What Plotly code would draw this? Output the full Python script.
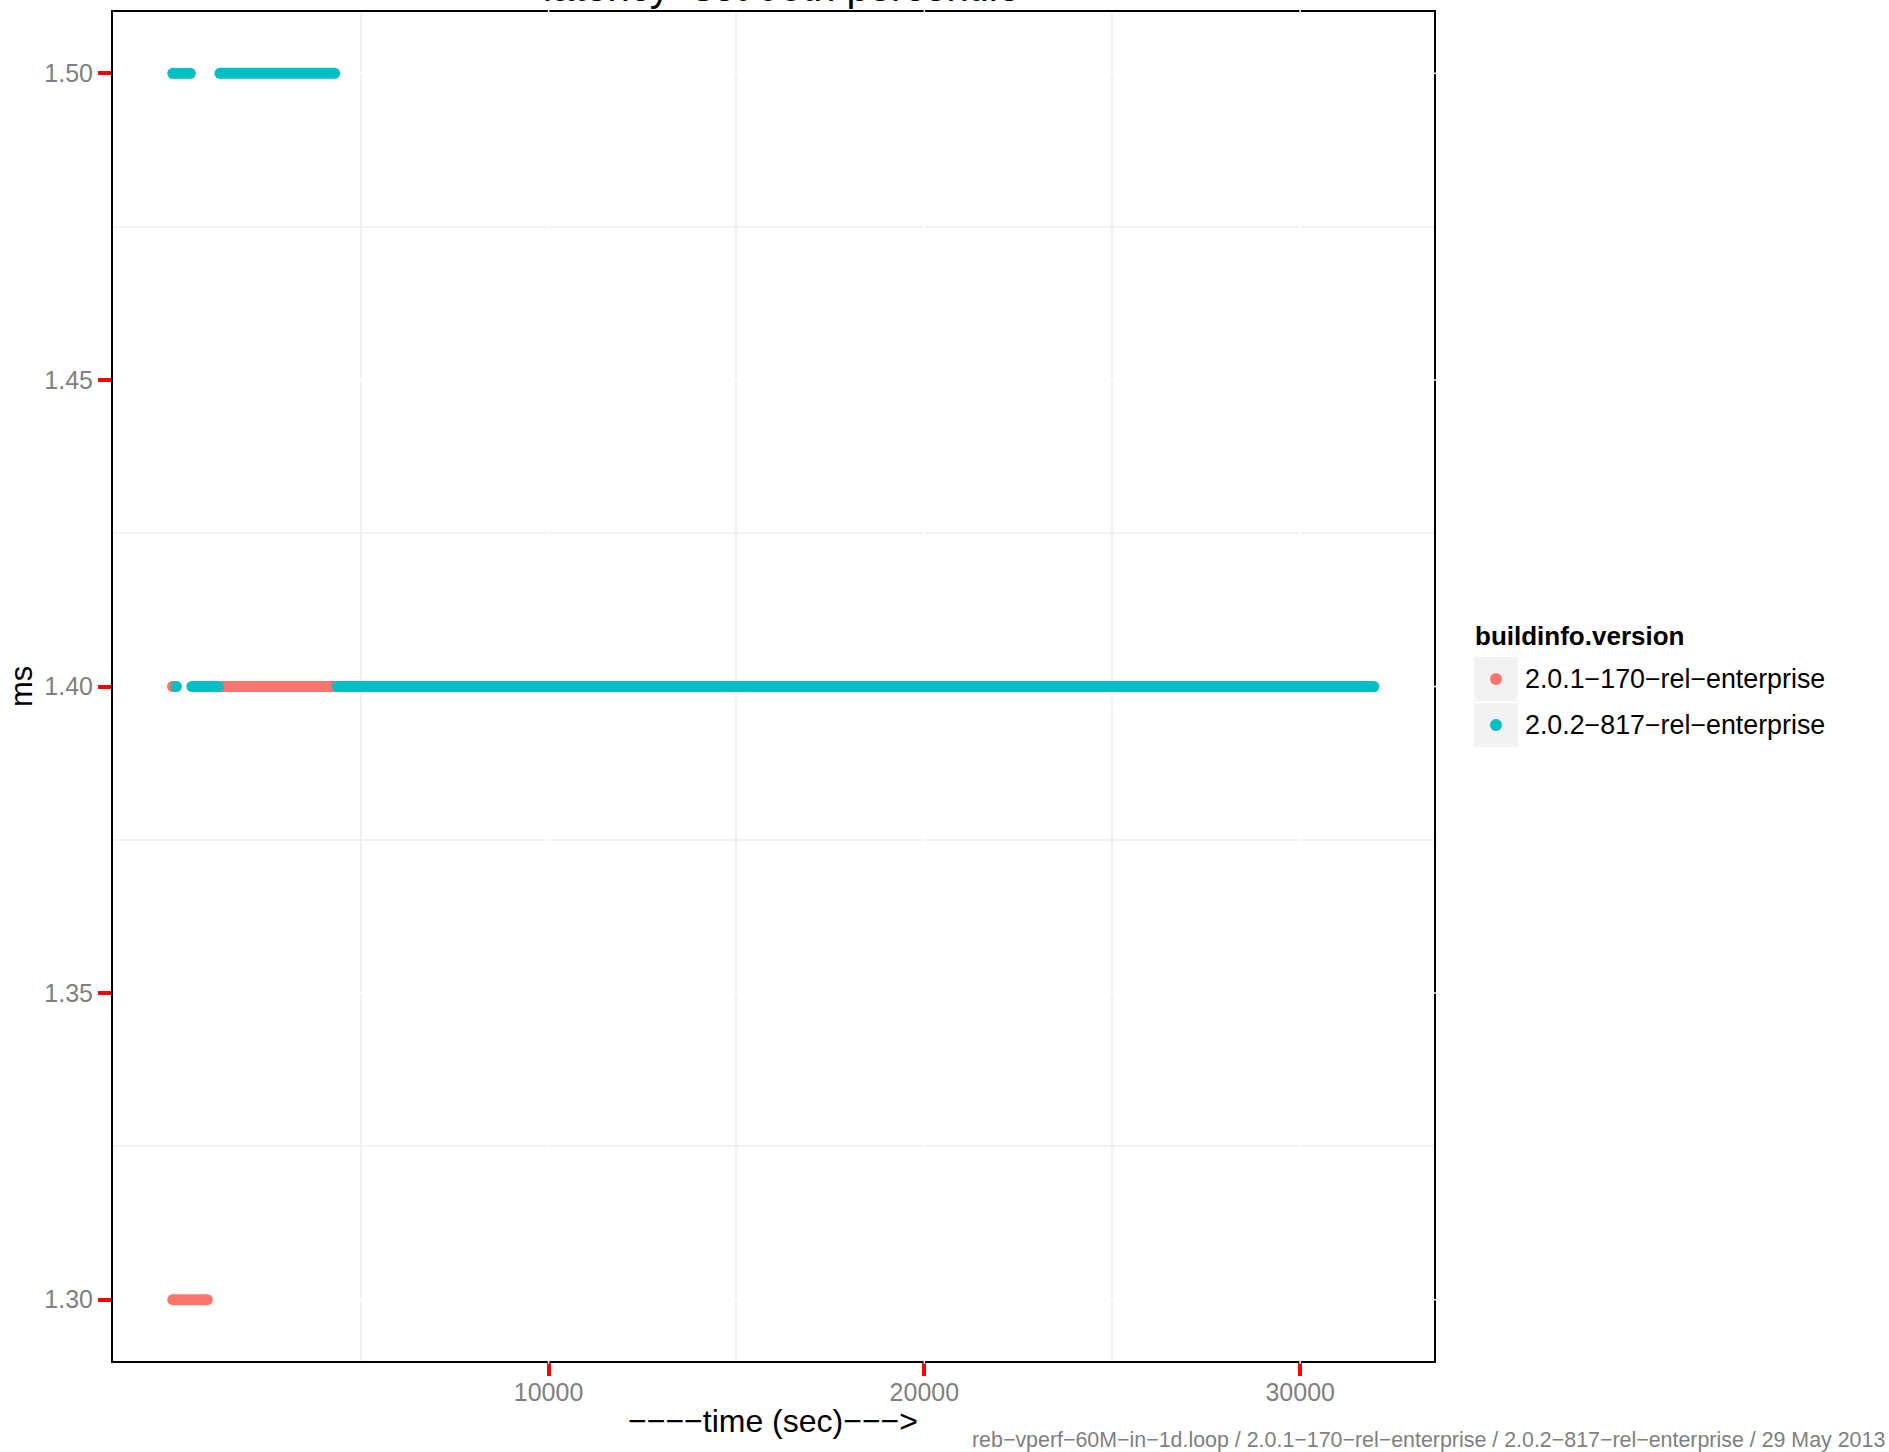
import plotly.graph_objects as go

# ---------------- data ----------------
series_names = ["2.0.1\u2212170\u2212rel\u2212enterprise", "2.0.2\u2212817\u2212rel\u2212enterprise"]
series_colors = ["#F8766D", "#00BFC4"]

# runs of constant latency: start time (sec), end time (sec), value (ms)
s1_start = [0, 0, 930]
s1_end = [920, 0, 4400]
s1_value = [1.30, 1.40, 1.40]

s2_start = [0, 1255, 90, 510, 4380]
s2_end = [470, 4310, 90, 1215, 31960]
s2_value = [1.50, 1.50, 1.40, 1.40, 1.40]

x_ticks = [10000, 20000, 30000]
x_minor = [5000, 15000, 25000]
y_ticks = [1.30, 1.35, 1.40, 1.45, 1.50]
y_tick_text = ["1.30", "1.35", "1.40", "1.45", "1.50"]
y_minor = [1.325, 1.375, 1.425, 1.475]

title_text = "latency\u2212set 90th percentile"
x_title = "\u2212\u2212\u2212\u2212time (sec)\u2212\u2212\u2212>"
y_title = "ms"
legend_title = "buildinfo.version"
caption = ("reb\u2212vperf\u221260M\u2212in\u22121d.loop / 2.0.1\u2212170\u2212rel\u2212enterprise / "
           "2.0.2\u2212817\u2212rel\u2212enterprise / 29 May 2013")

FONT = "Liberation Sans, Arial, sans-serif"
W, H = 1889, 1452
L, R, T, B = 113, 455, 10, 91
PW, PH = W - L - R, H - T - B


def px(xp):
    return (xp - L) / PW


def py(yp):
    return (H - B - yp) / PH


def runs_to_xy(starts, ends, values):
    xs, ys = [], []
    for a, b, v in zip(starts, ends, values):
        xs += [a, b, None]
        ys += [v, v, None]
    return xs, ys


fig = go.Figure()
for (st, en, va), name, col in zip([(s1_start, s1_end, s1_value), (s2_start, s2_end, s2_value)],
                                   series_names, series_colors):
    xs, ys = runs_to_xy(st, en, va)
    fig.add_trace(go.Scatter(
        x=xs, y=ys, mode="lines+markers", name=name, showlegend=False,
        line=dict(color=col, width=11),
        marker=dict(color=col, size=11, line=dict(width=0)),
        connectgaps=False, hoverinfo="x+y+name",
    ))

shapes = []
annotations = []

# legend (drawn manually to mimic ggplot keys)
annotations.append(dict(x=px(1473), y=py(635), xref="paper", yref="paper", text="<b>%s</b>" % legend_title,
                        showarrow=False, xanchor="left", yanchor="middle",
                        font=dict(family=FONT, size=26, color="black")))
key_tops = [656, 702]
for i, (name, col) in enumerate(zip(series_names, series_colors)):
    top = key_tops[i]
    shapes.append(dict(type="rect", xref="paper", yref="paper", x0=px(1474), x1=px(1518),
                       y0=py(top), y1=py(top + 44), fillcolor="#F2F2F2", line=dict(width=0), layer="above"))
    cy = top + 22
    shapes.append(dict(type="circle", xref="paper", yref="paper", xsizemode="pixel", ysizemode="pixel",
                       xanchor=px(1496), yanchor=py(cy), x0=-6, x1=6, y0=-6, y1=6,
                       fillcolor=col, line=dict(width=0), layer="above"))
    annotations.append(dict(x=px(1523), y=py(cy), xref="paper", yref="paper", text=name,
                            showarrow=False, xanchor="left", yanchor="middle",
                            font=dict(family=FONT, size=26.8, color="black")))

# white major-grid breaks crossing the panel border (ggplot draws grid over the outline)
for v in x_ticks:
    for yy in (0, 1):
        shapes.append(dict(type="line", xref="x", yref="paper", x0=v, x1=v,
                           y0=yy - 0.002, y1=yy + 0.002, line=dict(color="white", width=1.5), layer="above"))
for v in y_ticks:
    shapes.append(dict(type="line", xref="paper", yref="y", x0=0.9985, x1=1.0015,
                       y0=v, y1=v, line=dict(color="white", width=1.5), layer="above"))

# title (mostly cut off at the top edge, as in the reference)
annotations.append(dict(x=px(781), y=py(-15), xref="paper", yref="paper", text=title_text,
                        showarrow=False, xanchor="center", yanchor="middle",
                        font=dict(family=FONT, size=40, color="black")))
# axis titles
annotations.append(dict(x=px(773), y=py(1421), xref="paper", yref="paper", text=x_title,
                        showarrow=False, xanchor="center", yanchor="middle",
                        font=dict(family=FONT, size=32, color="black")))
annotations.append(dict(x=px(22), y=py(686), xref="paper", yref="paper", text=y_title, textangle=-90,
                        showarrow=False, xanchor="center", yanchor="middle",
                        font=dict(family=FONT, size=31, color="black")))
# caption
annotations.append(dict(x=px(1887), y=py(1440), xref="paper", yref="paper", text=caption,
                        showarrow=False, xanchor="right", yanchor="middle",
                        font=dict(family=FONT, size=21.4, color="#7F7F7F")))

fig.update_layout(
    width=W, height=H,
    margin=dict(l=L, r=R, t=T, b=B, pad=0),
    paper_bgcolor="white", plot_bgcolor="white",
    showlegend=False,
    font=dict(family=FONT),
    shapes=shapes, annotations=annotations,
    xaxis=dict(range=[-1590, 33560], tickmode="array", tickvals=x_ticks,
               ticktext=[str(v) for v in x_ticks],
               ticks="outside", ticklen=13, tickwidth=4, tickcolor="red",
               tickfont=dict(family=FONT, size=25, color="#7F7F7F"),
               ticklabelstandoff=-5,
               showgrid=True, gridcolor="white", gridwidth=1.5,
               minor=dict(tickmode="array", tickvals=x_minor, showgrid=True,
                          gridcolor="#F2F2F2", gridwidth=1.5, ticks=""),
               showline=True, mirror=True, linecolor="black", linewidth=2, zeroline=False),
    yaxis=dict(range=[1.29, 1.51], tickmode="array", tickvals=y_ticks, ticktext=y_tick_text,
               ticks="outside", ticklen=13, tickwidth=4, tickcolor="red",
               tickfont=dict(family=FONT, size=25, color="#7F7F7F"),
               showgrid=True, gridcolor="white", gridwidth=1.5,
               minor=dict(tickmode="array", tickvals=y_minor, showgrid=True,
                          gridcolor="#F2F2F2", gridwidth=1.5, ticks=""),
               showline=True, mirror=True, linecolor="black", linewidth=2, zeroline=False),
)

fig.write_html("out.html", config={"displayModeBar": False},
               post_script="document.body.style.margin='0';document.body.style.overflow='hidden';")
